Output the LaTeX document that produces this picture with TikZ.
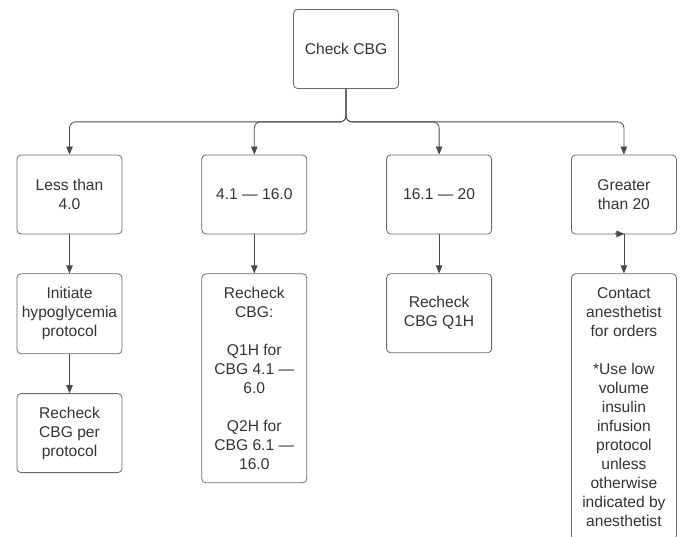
\documentclass[tikz,border=0pt]{standalone}
\usepackage{fontspec}
\setmainfont{Liberation Sans}
\usepackage{tikz}
\usetikzlibrary{arrows.meta,positioning}
\definecolor{edgegray}{HTML}{6A6A6A}
\definecolor{linegray}{HTML}{4A4A4A}
\definecolor{textgray}{HTML}{333333}

\begin{document}
\begin{tikzpicture}[x=1pt,y=-1pt,node distance=39pt and 79pt,
                    box/.style={draw=edgegray,line width=0.8pt,rounded corners=4pt,
                                minimum width=105pt,minimum height=79pt,inner sep=2pt,
                                align=center,text=textgray,
                                font=\fontsize{15.6}{19}\selectfont},
                    flow/.style={draw=linegray,line width=0.8pt,
                                 -{Triangle[length=8pt,width=6.5pt]}}]
\useasboundingbox (0,0) rectangle (690,537);

 \node[box] (check) at (346,49) {Check CBG};
 \coordinate (split) at ([yshift=-33pt]check.south);

  \node[box] (r1) at (69.5,194.5) {Less than\\4.0};
  \node[box] (r2) [right=of r1]   {4.1 — 16.0};
  \node[box] (r3) [right=of r2]   {16.1 — 20};
  \node[box] (r4) [right=of r3]   {Greater\\than 20};

  \node[box,minimum height=80pt] (a1) [below=of r1] {Initiate\\hypoglycemia\\protocol};
  \node[box,minimum height=209pt] (a2) [below=of r2]
        {Recheck\\CBG:\\[19pt]Q1H for\\CBG 4.1 —\\6.0\\[19pt]Q2H for\\CBG 6.1 —\\16.0};
  \node[box] (a3) [below=of r3] {Recheck\\CBG Q1H};
  \node[box,minimum height=266pt] (a4) [below=of r4]
        {Contact\\anesthetist\\for orders\\[19pt]*Use low\\volume\\insulin\\infusion\\protocol\\unless\\otherwise\\indicated by\\anesthetist};

  \node[box] (p1) [below=of a1] {Recheck\\CBG per\\protocol};

  % branches out of the first check
  \foreach \r in {r1,r2,r3,r4}
    \draw[flow,rounded corners=6pt] (check.south) -- (split) -| (\r.north);

  \draw[flow] (r1) -- (a1);
  \draw[flow] (a1) -- (p1);
  \draw[flow] (r2) -- (a2);
  \draw[flow] (r3) -- (a3);
  \draw[flow] (r4) -- (a4);
  \draw[flow,shorten >=-0.5pt] ([xshift=-9pt,yshift=0.5pt]r4.south) -- ([yshift=0.5pt]r4.south);

\end{tikzpicture}
\end{document}
